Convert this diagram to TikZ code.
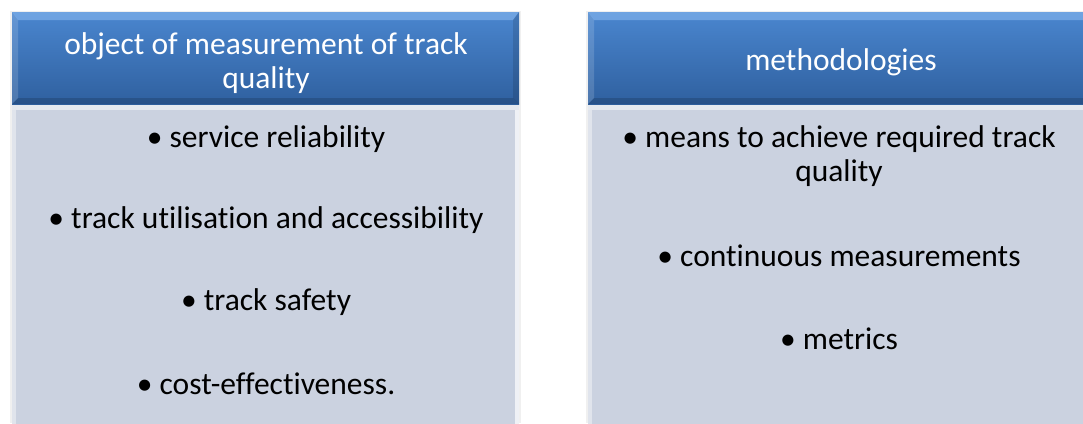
\documentclass[tikz,border=0pt]{standalone}
\usepackage{fontspec}
\setmainfont{Carlito}[Ligatures=NoCommon]
\begin{document}
\begin{tikzpicture}[x=1pt,y=-1pt,
  hdr/.style={text=white,font=\fontsize{31.5}{33.5}\selectfont,align=center},
  itm/.style={text=black,font=\fontsize{31.5}{34}\selectfont,align=center}]
\definecolor{bodyc}{HTML}{CBD2E0}
\definecolor{htop}{HTML}{4A86CF}
\definecolor{hbot}{HTML}{2F609F}
\definecolor{hlite}{HTML}{7FB0EA}
\useasboundingbox (0,0) rectangle (1083,423);
% shadows
\fill[black!6] (10,11) rectangle (521,423);
\fill[black!6] (586,11) rectangle (1100,423);
% left body
\fill[bodyc] (12,104) rectangle (519,430);
\fill[white!40!bodyc] (12,104) rectangle (16,430);
\fill[white!70!bodyc] (515,104) rectangle (519,430);
\fill[white!50!bodyc] (12,104) rectangle (519,110);
% right body
\fill[bodyc] (588,104) rectangle (1100,430);
\fill[white!40!bodyc] (588,104) rectangle (592,430);
\fill[white!50!bodyc] (588,104) rectangle (1100,110);
% left header
\shade[top color=htop,bottom color=hbot] (12,12) rectangle (519,104);
\fill[hlite,opacity=0.7] (12,12) -- (519,12) -- (513,20) -- (18,20) -- cycle;
\fill[white,opacity=0.15] (12,12) -- (18,20) -- (18,98) -- (12,104) -- cycle;
\fill[black,opacity=0.12] (519,12) -- (513,20) -- (513,98) -- (519,104) -- cycle;
\fill[black,opacity=0.15] (12,104) -- (18,98) -- (513,98) -- (519,104) -- cycle;
% right header
\shade[top color=htop,bottom color=hbot] (588,12) rectangle (1100,104);
\fill[hlite,opacity=0.7] (588,12) -- (1100,12) -- (1094,20) -- (594,20) -- cycle;
\fill[white,opacity=0.15] (588,12) -- (594,20) -- (594,98) -- (588,104) -- cycle;
\fill[black,opacity=0.15] (588,104) -- (594,98) -- (1094,98) -- (1100,104) -- cycle;
% texts
\node[hdr] (h1) at (266,63) {object of measurement of track\\quality};
\node[hdr] (h2) at (841,62) {methodologies};
\node[itm] (a1) at (266,139) {• service reliability};
\node[itm] (a2) at (266,220) {• track utilisation and accessibility};
\node[itm] (a3) at (266,302) {• track safety};
\node[itm] (a4) at (266,384) {• cost-effectiveness.};
\node[itm] (b1) at (839,156) {• means to achieve required track\\quality};
\node[itm] (b2) at (839,256) {• continuous measurements};
\node[itm] (b3) at (839,339) {• metrics};
\end{tikzpicture}
\end{document}
